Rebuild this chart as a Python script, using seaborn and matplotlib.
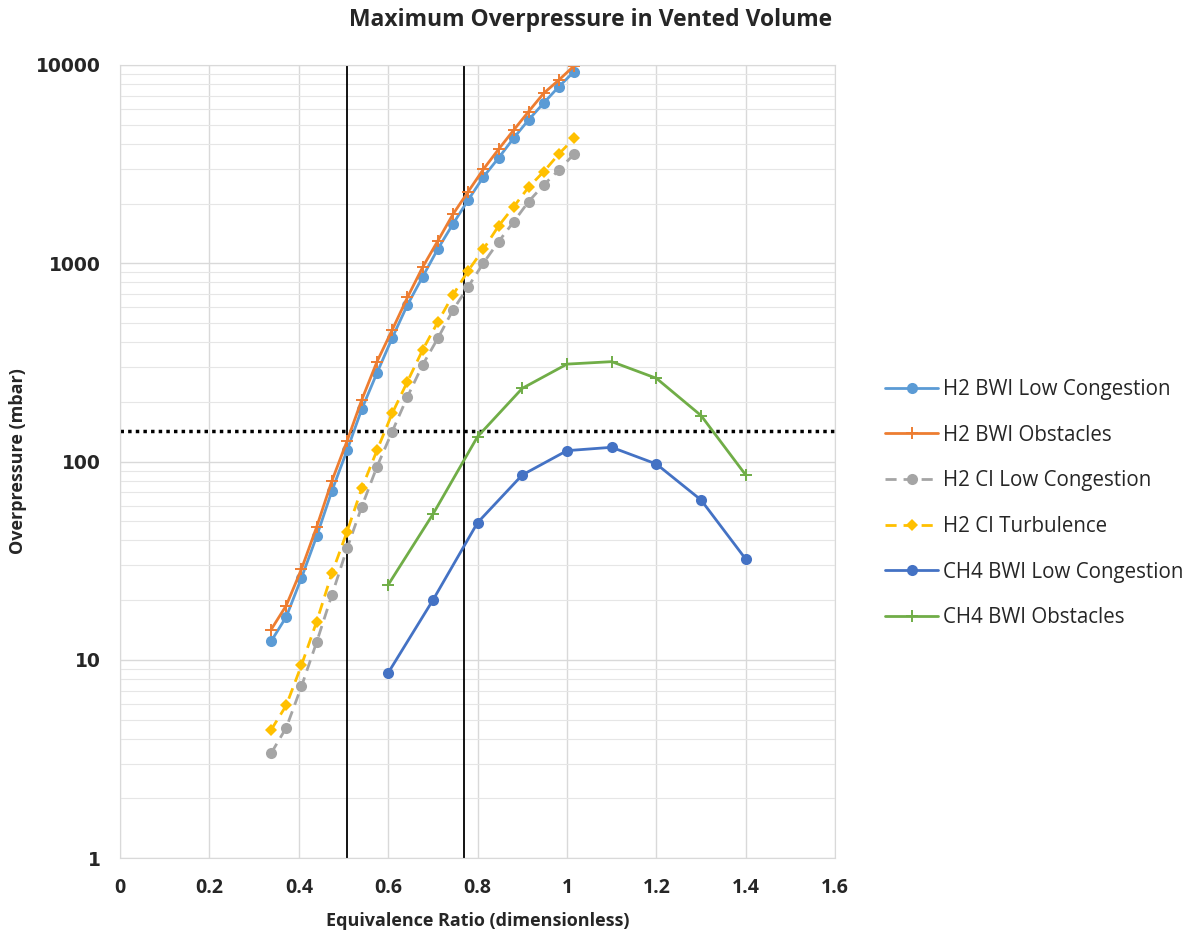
import matplotlib
matplotlib.use("Agg")
import matplotlib.pyplot as plt
import matplotlib.ticker as mticker
import seaborn as sns
import pandas as pd

# equivalence ratios of the H2 runs
h2_phi = [0.338, 0.372, 0.406, 0.440, 0.474, 0.508, 0.541, 0.575, 0.609, 0.643, 0.677,
          0.711, 0.745, 0.779, 0.813, 0.847, 0.881, 0.914, 0.948, 0.982, 1.016]
h2_bwi_low = [12.4, 16.5, 25.9, 42, 71, 114, 184, 280, 420, 616, 853,
              1180, 1578, 2085, 2723, 3397, 4285, 5280, 6430, 7780, 9250]
h2_bwi_obst = [14.2, 18.8, 28.7, 46.8, 79.8, 127, 205, 319, 461, 672, 955,
               1296, 1767, 2297, 2978, 3756, 4700, 5815, 7200, 8400, 9900]
h2_ci_low = [3.38, 4.55, 7.35, 12.3, 21.2, 36.5, 59.3, 94.3, 141.6, 212, 307,
             418, 581, 762, 1002, 1285, 1621, 2045, 2483, 2954, 3558]
h2_ci_turb = [4.43, 5.9, 9.4, 15.6, 27.3, 44.3, 73.4, 114, 175, 253, 365,
              505, 692, 918, 1176, 1542, 1930, 2416, 2897, 3558, 4270]

# equivalence ratios of the CH4 runs
ch4_phi = [0.6, 0.7, 0.8, 0.9, 1.0, 1.1, 1.2, 1.3, 1.4]
ch4_bwi_low = [8.6, 20.0, 49.2, 85.6, 113.5, 118, 97.2, 64, 32.2]
ch4_bwi_obst = [23.9, 54.2, 133.6, 234, 310, 319, 263, 170.6, 85.5]

threshold = 143
phi_lines = [0.508, 0.77]

series = [
    ("H2 BWI Low Congestion", h2_phi, h2_bwi_low, "#5B9BD5", "o", "-"),
    ("H2 BWI Obstacles", h2_phi, h2_bwi_obst, "#ED7D31", "+", "-"),
    ("H2 CI Low Congestion", h2_phi, h2_ci_low, "#A5A5A5", "o", (0, (4, 2.5))),
    ("H2 CI Turbulence", h2_phi, h2_ci_turb, "#FFC000", "D", (0, (4, 2.5))),
    ("CH4 BWI Low Congestion", ch4_phi, ch4_bwi_low, "#4472C4", "o", "-"),
    ("CH4 BWI Obstacles", ch4_phi, ch4_bwi_obst, "#70AD47", "+", "-"),
]

sns.set_style("white")
plt.rcParams["font.family"] = ["Open Sans", "DejaVu Sans"]

fig = plt.figure(figsize=(11.88, 9.41), dpi=100)
ax = fig.add_axes([0.101, 0.088, 0.602, 0.843])

for name, xs, ys, col, mk, ls in series:
    df = pd.DataFrame({"phi": xs, "p": ys})
    ms = 8 if mk == "o" else (6 if mk == "D" else 9)
    sns.lineplot(data=df, x="phi", y="p", ax=ax, color=col, marker=mk, linestyle=ls,
                 linewidth=2, markersize=ms, markeredgewidth=1.4 if mk == "+" else 0,
                 markeredgecolor=col, label=name, sort=False)

for xv in phi_lines:
    ax.axvline(xv, color="black", lw=1.3, zorder=1)
ax.axhline(threshold, color="black", lw=2.5, linestyle=(0, (1, 1.2)), zorder=1)

ax.set_yscale("log")
ax.set_xlim(0, 1.6)
ax.set_ylim(1, 10000)
ax.xaxis.set_major_locator(mticker.MultipleLocator(0.2))
ax.xaxis.set_major_formatter(mticker.FuncFormatter(lambda v, p: f"{v:g}"))
ax.yaxis.set_major_locator(mticker.LogLocator(base=10, numticks=10))
ax.yaxis.set_minor_locator(mticker.LogLocator(base=10, subs=range(2, 10), numticks=10))
ax.yaxis.set_major_formatter(mticker.FuncFormatter(lambda v, p: f"{int(round(v))}"))
ax.yaxis.set_minor_formatter(mticker.NullFormatter())

ax.grid(which="major", axis="both", color="#D9D9D9", lw=1)
ax.grid(which="minor", axis="y", color="#E6E6E6", lw=0.8)
ax.set_axisbelow(True)
for s in ax.spines.values():
    s.set_color("#D9D9D9")
ax.tick_params(which="both", length=0)
ax.tick_params(axis="x", labelsize=14, pad=14)
ax.tick_params(axis="y", pad=14)
for t in ax.get_yticklabels():
    t.set_fontfamily("DejaVu Sans")
    t.set_fontweight("bold")
    t.set_fontsize(13.5)
for t in ax.get_xticklabels():
    t.set_fontweight("bold")

ax.set_xlabel("Equivalence Ratio (dimensionless)", fontsize=13, fontweight="bold", labelpad=10)
ax.set_ylabel("Overpressure (mbar)", fontsize=13, fontweight="bold", labelpad=6)
fig.suptitle("Maximum Overpressure in Vented Volume", x=0.497, y=0.992, fontsize=16.5,
             fontweight="bold", va="top")

ax.legend(loc="center left", bbox_to_anchor=(1.058, 0.447), borderaxespad=0, frameon=False,
          fontsize=14.8, handlelength=2.6, labelspacing=1.2, handletextpad=0.25)

fig.savefig("out.png", dpi=100)
